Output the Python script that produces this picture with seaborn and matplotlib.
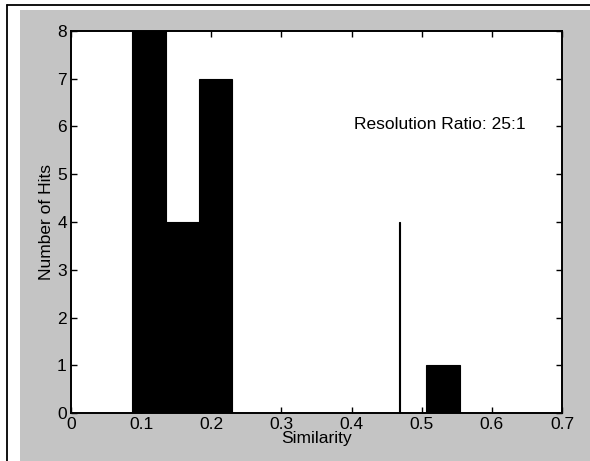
import numpy as np
import matplotlib
matplotlib.use("Agg")
import matplotlib.pyplot as plt
import seaborn as sns
from matplotlib.patches import Rectangle
from matplotlib.lines import Line2D

# histogram bins (left edge, right edge, hits)
bin_left = [0.087, 0.135, 0.182, 0.467, 0.506]
bin_right = [0.135, 0.182, 0.229, 0.469, 0.554]
hits = [8, 4, 7, 4, 1]

x_ticks = [0, 0.1, 0.2, 0.3, 0.4, 0.5, 0.6, 0.7]
y_ticks = [0, 1, 2, 3, 4, 5, 6, 7, 8]
note = "Resolution Ratio: 25:1"

sns.set_theme(style="white")
plt.rcParams["font.family"] = ["Liberation Sans", "DejaVu Sans"]
plt.rcParams["text.color"] = "black"
plt.rcParams["axes.labelcolor"] = "black"

fig = plt.figure(figsize=(5.9, 4.61), dpi=100, facecolor="white")

# scanned gray backdrop + the page frame lines
fig.patches.append(Rectangle((20 / 590, 0), 1 - 20 / 590, 451 / 461,
                             transform=fig.transFigure, facecolor="#c4c4c4",
                             edgecolor="none", zorder=-10))
fig.lines.append(Line2D([7 / 590, 7 / 590], [0, 456 / 461], transform=fig.transFigure,
                        color="black", lw=1.3, zorder=-5))
fig.lines.append(Line2D([7 / 590, 1], [456 / 461, 456 / 461], transform=fig.transFigure,
                        color="black", lw=1.3, zorder=-5))

ax = fig.add_axes([71 / 590, 48 / 461, 491 / 590, 382 / 461])
ax.set_zorder(5)
ax.set_facecolor("white")

edges = sorted(set(bin_left) | set(bin_right))
centers = [(l + r) / 2 for l, r in zip(bin_left, bin_right)]
sns.histplot(x=centers, weights=hits, bins=edges, ax=ax, color="black",
             alpha=1, edgecolor="black", linewidth=0.8)

ax.set_xlim(0, 0.7)
ax.set_ylim(0, 8)
ax.set_xticks(x_ticks)
ax.set_xticklabels([f"{t:g}" for t in x_ticks])
ax.set_yticks(y_ticks)

for s in ax.spines.values():
    s.set_visible(True)
    s.set_color("black")
    s.set_linewidth(1.4)

ax.tick_params(which="both", direction="in", length=4, width=1, colors="black",
               labelcolor="black", top=True, right=True, bottom=True, left=True,
               labelsize=12.5, pad=3)

ax.set_xlabel("Similarity", fontsize=12.5, labelpad=-1)
ax.set_ylabel("Number of Hits", fontsize=12.5, labelpad=2)

ax.text(0.403, 6.05, note, fontsize=12.5, ha="left", va="center")

fig.savefig("out.png", dpi=100, facecolor=fig.get_facecolor())
